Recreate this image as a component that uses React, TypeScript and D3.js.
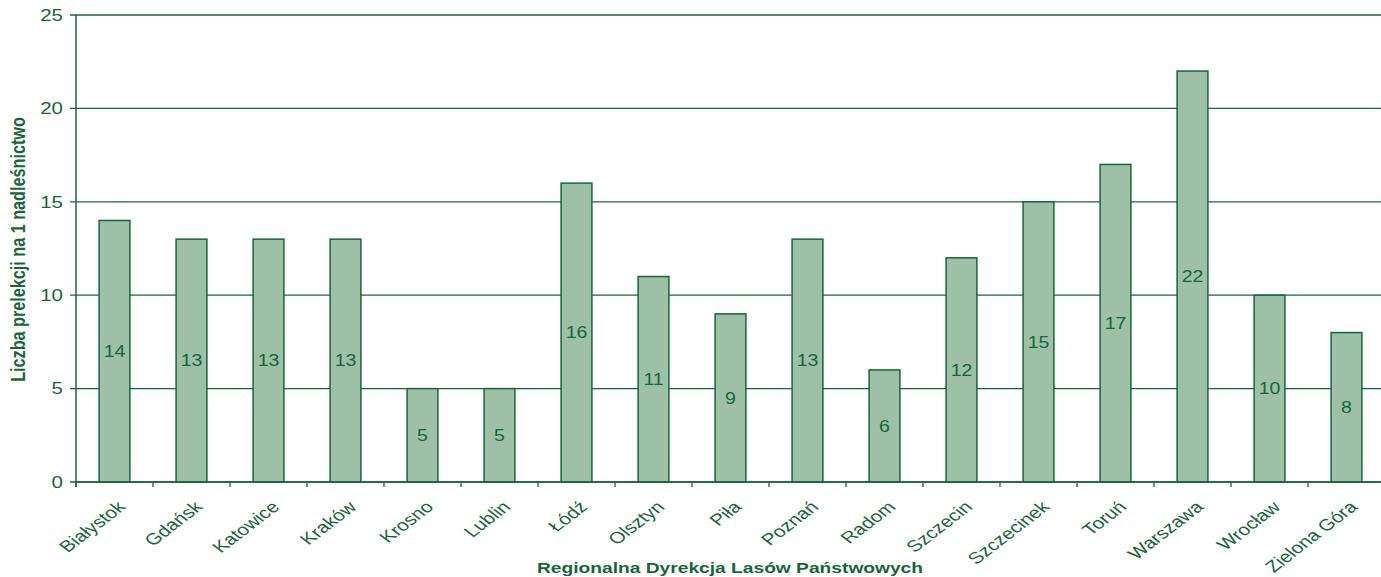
import { useEffect, useRef } from "react"
import * as d3 from "d3"

const regions = [
  "Białystok", "Gdańsk", "Katowice", "Kraków", "Krosno", "Lublin", "Łódź", "Olsztyn", "Piła",
  "Poznań", "Radom", "Szczecin", "Szczecinek", "Toruń", "Warszawa", "Wrocław", "Zielona Góra",
]
const lectures = [14, 13, 13, 13, 5, 5, 16, 11, 9, 13, 6, 12, 15, 17, 22, 10, 8]
const yTicks = [0, 5, 10, 15, 20, 25]

const W = 1381
const H = 577
const GREEN = "#17663a"
// the reference text is stretched horizontally
const SX = 1.25

export default function App() {
  const svgRef = useRef<SVGSVGElement>(null)

  useEffect(() => {
    if (!svgRef.current) return
    const margin = { top: 15, right: 0, bottom: 95, left: 76 }
    const innerWidth = W - margin.left - margin.right
    const innerHeight = H - margin.top - margin.bottom
    const bandWidth = regions.length * 77

    d3.select(svgRef.current).selectAll("*").remove()
    const root = d3.select(svgRef.current)
    const svg = root.append("g").attr("transform", `translate(${margin.left},${margin.top})`)

    const x = d3.scaleBand().domain(regions).range([0, bandWidth]).paddingInner(0.6).paddingOuter(0.3)
    const y = d3.scaleLinear().domain([0, 25]).range([innerHeight, 0])

    // Grid lines
    svg
      .append("g")
      .selectAll("line")
      .data(yTicks)
      .join("line")
      .attr("x1", -6)
      .attr("x2", innerWidth)
      .attr("y1", (d) => y(d))
      .attr("y2", (d) => y(d))
      .attr("stroke", GREEN)
      .attr("stroke-width", 1.3)

    // Y labels
    svg
      .append("g")
      .selectAll("text")
      .data(yTicks)
      .join("text")
      .attr("transform", (d) => `translate(-13,${y(d)}) scale(1.28,1)`)
      .attr("dy", "0.36em")
      .attr("text-anchor", "end")
      .attr("font-size", 16)
      .attr("fill", GREEN)
      .text((d) => d)

    // Bars
    svg
      .append("g")
      .selectAll("rect")
      .data(lectures)
      .join("rect")
      .attr("x", (_, i) => x(regions[i]) as number)
      .attr("y", (d) => y(d))
      .attr("width", x.bandwidth())
      .attr("height", (d) => innerHeight - y(d))
      .attr("fill", "#9dc0a7")
      .attr("stroke", GREEN)
      .attr("stroke-width", 1.5)

    // Value labels
    svg
      .append("g")
      .selectAll("text")
      .data(lectures)
      .join("text")
      .attr("transform", (d, i) => `translate(${(x(regions[i]) as number) + x.bandwidth() / 2},${(y(d) + innerHeight) / 2}) scale(1.22,1)`)
      .attr("dy", "0.36em")
      .attr("text-anchor", "middle")
      .attr("font-size", 16)
      .attr("fill", GREEN)
      .text((d) => d)

    // Axis lines
    svg.append("line").attr("x1", 0).attr("x2", 0).attr("y1", 0).attr("y2", innerHeight + 5).attr("stroke", GREEN).attr("stroke-width", 1.5)
    svg.append("line").attr("x1", 0).attr("x2", innerWidth).attr("y1", innerHeight).attr("y2", innerHeight).attr("stroke", GREEN).attr("stroke-width", 1.5)

    // Category boundary ticks
    svg
      .append("g")
      .selectAll("line")
      .data(regions)
      .join("line")
      .attr("x1", (_, i) => i * x.step())
      .attr("x2", (_, i) => i * x.step())
      .attr("y1", innerHeight)
      .attr("y2", innerHeight + 5)
      .attr("stroke", GREEN)
      .attr("stroke-width", 1.3)

    // X labels
    svg
      .append("g")
      .selectAll("text")
      .data(regions)
      .join("text")
      .attr("transform", (d) => `translate(${(x(d) as number) + x.bandwidth() / 2 + 7},${innerHeight + 22}) scale(1.3,1) rotate(-45)`)
      .attr("text-anchor", "end")
      .attr("dy", "0.35em")
      .attr("font-size", 16)
      .attr("fill", GREEN)
      .text((d) => d)

    // Titles
    root
      .append("text")
      .attr("transform", `translate(25,${margin.top + innerHeight / 2 + 1}) scale(${SX},1) rotate(-90)`)
      .attr("text-anchor", "middle")
      .attr("font-size", 16.2)
      .attr("font-weight", "bold")
      .attr("fill", GREEN)
      .text("Liczba prelekcji na 1 nadleśnictwo")

    root
      .append("text")
      .attr("transform", `translate(730,573) scale(1.28,1)`)
      .attr("text-anchor", "middle")
      .attr("font-size", 15)
      .attr("font-weight", "bold")
      .attr("fill", GREEN)
      .text("Regionalna Dyrekcja Lasów Państwowych")
  }, [])

  return (
    <div style={{ position: "absolute", left: 0, top: 0 }}>
      <svg ref={svgRef} width={W} height={H} style={{ display: "block", fontFamily: "Liberation Sans, Arial, sans-serif" }} />
    </div>
  )
}
